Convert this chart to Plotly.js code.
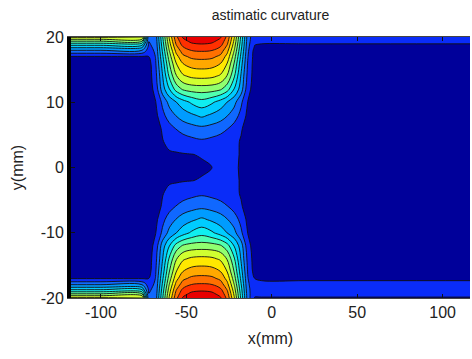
<!DOCTYPE html>
<html>
<head>
<meta charset="utf-8">
<script src="https://cdn.plot.ly/plotly-3.0.1.min.js"></script>
<style>html,body{margin:0;padding:0;background:#fff;}#chart{width:472px;height:359px;}</style>
</head>
<body>
<div id="chart"></div>
<script>
// x positions (mm)
const xs = [-120, -100, -76, -72, -68, -64, -60, -56, -52, -47, -41, -35, -30, -26, -22, -18, -14, -10, -6, 20, 120];
// y positions (mm)
const ys = [-20, -19.3, -18.6, -17.8, -17, -16, -14, -12, -10, -8, -6, -4, -2, 0, 2, 4, 6, 8, 10, 12, 14, 16, 17, 17.8, 18.6, 19.3, 20];
// curvature values, one row per y
const zRows = [
  [9.2, 9.2, 9.2, 2.2, 2.48, 5.8, 9.11, 11.73, 13.11, 13.66, 13.8, 13.66, 13.11, 11.73, 9.11, 5.8, 2.48, 0.95, 0.95, 0.95, 0.95],
  [6.8, 6.8, 6.8, 2.0, 2.39, 5.59, 8.78, 11.3, 12.64, 13.17, 13.3, 13.17, 12.64, 11.3, 8.78, 5.59, 2.39, 1.2, 1.2, 1.2, 1.2],
  [4.6, 4.6, 4.6, 1.8, 2.29, 5.35, 8.4, 10.82, 12.09, 12.6, 12.73, 12.6, 12.09, 10.82, 8.4, 5.35, 2.29, 1.3, 1.3, 1.3, 1.3],
  [2.6, 2.6, 2.6, 1.5, 2.16, 5.04, 7.92, 10.2, 11.4, 11.88, 12.0, 11.88, 11.4, 10.2, 7.92, 5.04, 2.16, 1.25, 1.2, 1.2, 1.2],
  [0.95, 0.95, 0.95, 1.0, 2.04, 4.76, 7.48, 9.63, 10.76, 11.22, 11.33, 11.22, 10.76, 9.63, 7.48, 4.76, 2.04, 1.0, 0.85, 0.85, 0.85],
  [0.5, 0.5, 0.5, 0.6, 1.9, 4.44, 6.98, 8.98, 10.04, 10.46, 10.57, 10.46, 10.04, 8.98, 6.98, 4.44, 1.9, 0.6, 0.5, 0.5, 0.5],
  [0.5, 0.5, 0.5, 0.5, 1.67, 3.9, 6.14, 7.9, 8.84, 9.2, 9.3, 9.2, 8.84, 7.9, 6.14, 3.9, 1.67, 0.5, 0.5, 0.5, 0.5],
  [0.5, 0.5, 0.5, 0.5, 1.35, 3.5, 4.95, 6.38, 7.13, 7.43, 7.5, 7.43, 7.13, 6.38, 4.95, 3.5, 1.35, 0.5, 0.5, 0.5, 0.5],
  [0.5, 0.5, 0.5, 0.5, 0.95, 2.2, 3.3, 3.95, 4.55, 5.15, 5.6, 5.15, 4.55, 3.95, 3.3, 2.2, 0.95, 0.5, 0.5, 0.5, 0.5],
  [0.5, 0.5, 0.5, 0.5, 0.73, 1.7, 2.5, 3.05, 3.5, 3.83, 4.2, 3.83, 3.5, 3.05, 2.5, 1.7, 0.73, 0.5, 0.5, 0.5, 0.5],
  [0.5, 0.5, 0.5, 0.5, 0.6, 1.1, 1.62, 2.05, 2.4, 2.63, 2.78, 2.63, 2.4, 2.05, 1.62, 1.1, 0.6, 0.5, 0.5, 0.5, 0.5],
  [0.5, 0.5, 0.5, 0.5, 0.6, 0.95, 1.25, 1.35, 1.5, 1.7, 1.85, 1.7, 1.5, 1.35, 1.25, 0.92, 0.6, 0.5, 0.5, 0.5, 0.5],
  [0.5, 0.5, 0.5, 0.5, 0.55, 0.7, 0.88, 0.92, 0.95, 0.98, 1.06, 1.25, 1.3, 1.3, 1.2, 0.92, 0.62, 0.5, 0.5, 0.5, 0.5],
  [0.5, 0.5, 0.5, 0.5, 0.55, 0.6, 0.7, 0.75, 0.78, 0.82, 0.88, 1.0, 1.2, 1.25, 1.15, 0.9, 0.6, 0.5, 0.5, 0.5, 0.5],
  [0.5, 0.5, 0.5, 0.5, 0.55, 0.7, 0.88, 0.92, 0.95, 0.98, 1.06, 1.25, 1.3, 1.3, 1.2, 0.92, 0.62, 0.5, 0.5, 0.5, 0.5],
  [0.5, 0.5, 0.5, 0.5, 0.6, 0.95, 1.25, 1.35, 1.5, 1.7, 1.85, 1.7, 1.5, 1.35, 1.25, 0.92, 0.6, 0.5, 0.5, 0.5, 0.5],
  [0.5, 0.5, 0.5, 0.5, 0.6, 1.1, 1.62, 2.05, 2.4, 2.63, 2.78, 2.63, 2.4, 2.05, 1.62, 1.1, 0.6, 0.5, 0.5, 0.5, 0.5],
  [0.5, 0.5, 0.5, 0.5, 0.73, 1.7, 2.5, 3.05, 3.5, 3.83, 4.2, 3.83, 3.5, 3.05, 2.5, 1.7, 0.73, 0.5, 0.5, 0.5, 0.5],
  [0.5, 0.5, 0.5, 0.5, 0.95, 2.2, 3.3, 3.95, 4.55, 5.15, 5.6, 5.15, 4.55, 3.95, 3.3, 2.2, 0.95, 0.5, 0.5, 0.5, 0.5],
  [0.5, 0.5, 0.5, 0.5, 1.35, 3.5, 4.95, 6.38, 7.13, 7.43, 7.5, 7.43, 7.13, 6.38, 4.95, 3.5, 1.35, 0.5, 0.5, 0.5, 0.5],
  [0.5, 0.5, 0.5, 0.5, 1.67, 3.9, 6.14, 7.9, 8.84, 9.2, 9.3, 9.2, 8.84, 7.9, 6.14, 3.9, 1.67, 0.5, 0.5, 0.5, 0.5],
  [0.5, 0.5, 0.5, 0.6, 1.9, 4.44, 6.98, 8.98, 10.04, 10.46, 10.57, 10.46, 10.04, 8.98, 6.98, 4.44, 1.9, 0.5, 0.5, 0.5, 0.5],
  [0.95, 0.95, 0.95, 1.0, 2.04, 4.76, 7.48, 9.63, 10.76, 11.22, 11.33, 11.22, 10.76, 9.63, 7.48, 4.76, 2.04, 0.55, 0.5, 0.5, 0.5],
  [2.6, 2.6, 2.6, 1.5, 2.16, 5.04, 7.92, 10.2, 11.4, 11.88, 12.0, 11.88, 11.4, 10.2, 7.92, 5.04, 2.16, 0.6, 0.5, 0.5, 0.5],
  [4.6, 4.6, 4.6, 1.8, 2.29, 5.35, 8.4, 10.82, 12.09, 12.6, 12.73, 12.6, 12.09, 10.82, 8.4, 5.35, 2.29, 0.95, 0.85, 0.85, 0.85],
  [6.8, 6.8, 6.8, 2.0, 2.39, 5.59, 8.78, 11.3, 12.64, 13.17, 13.3, 13.17, 12.64, 11.3, 8.78, 5.59, 2.39, 1.2, 1.15, 1.15, 1.15],
  [9.2, 9.2, 9.2, 2.2, 2.48, 5.8, 9.11, 11.73, 13.11, 13.66, 13.8, 13.66, 13.11, 11.73, 9.11, 5.8, 2.48, 1.3, 1.3, 1.3, 1.3]
];
const xTicks = [-100, -50, 0, 50, 100];
const yTicks = [-20, -10, 0, 10, 20];
const bandColors = ['#00009A', '#0A2CF8', '#1068FF', '#009CFF', '#00CCFF', '#10EEF0', '#50FFB0',
  '#90FF70', '#D0FF30', '#FFE800', '#FFA800', '#FF7000', '#FF3000', '#E80000'];

const colorscale = bandColors.map((c, i) => [i / (bandColors.length - 1), c]);
const font = {family: 'Liberation Sans, Arial, sans-serif', color: '#222'};

Plotly.newPlot('chart', [{
  type: 'contour',
  x: xs, y: ys, z: zRows,
  colorscale: colorscale,
  showscale: false,
  autocontour: false,
  contours: {start: 1, end: 13, size: 1, coloring: 'fill'},
  line: {color: '#111', width: 0.9, smoothing: 1},
  hoverinfo: 'skip'
}], {
  width: 472, height: 359,
  margin: {l: 71, r: 2, t: 37, b: 61},
  paper_bgcolor: '#fff', plot_bgcolor: '#fff',
  font: Object.assign({size: 16}, font),
  title: {text: 'astimatic curvature', font: Object.assign({size: 14}, font),
    x: 0.5, xref: 'paper', y: 0.958, yref: 'container', yanchor: 'middle'},
  xaxis: {range: [-117.5, 116], tickvals: xTicks, ticktext: xTicks.map(String),
    ticks: 'inside', ticklen: 4, tickcolor: '#111', showline: true, mirror: 'ticks',
    linecolor: '#444', linewidth: 1, showgrid: false, zeroline: false,
    tickfont: Object.assign({size: 16}, font),
    title: {text: 'x(mm)', font: Object.assign({size: 16}, font), standoff: 12}},
  yaxis: {range: [-20, 20], tickvals: yTicks, ticktext: yTicks.map(String),
    ticks: 'inside', ticklen: 4, tickcolor: '#111', showline: true, mirror: false,
    linecolor: '#000', linewidth: 4, showgrid: false, zeroline: false,
    tickfont: Object.assign({size: 16}, font),
    title: {text: 'y(mm)', font: Object.assign({size: 16}, font), standoff: 14}}
}, {staticPlot: true});
</script>
</body>
</html>
